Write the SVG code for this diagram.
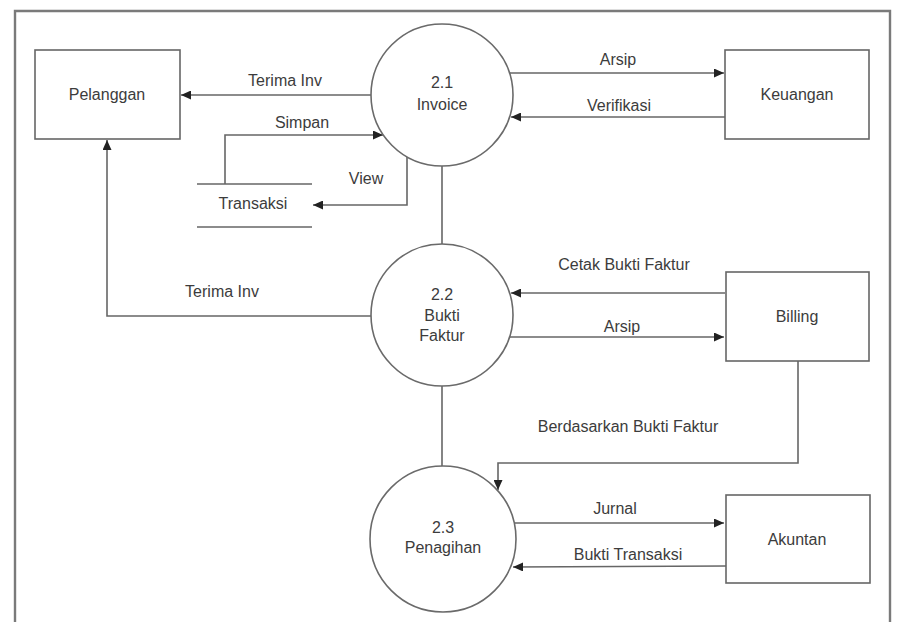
<svg xmlns="http://www.w3.org/2000/svg" width="901" height="622" viewBox="0 0 901 622">
  <style>
    .frame { fill: none; stroke: #7a7a7a; stroke-width: 2.4; }
    .entity rect { fill: #fff; stroke: #666; stroke-width: 1.6; }
    .process circle { fill: #fff; stroke: #6a6a6a; stroke-width: 1.6; }
    .store line { stroke: #666; stroke-width: 1.6; }
    .flow { fill: none; stroke: #666; stroke-width: 1.6; }
    .arrow { marker-end: url(#head); }
    text { font-family: "Liberation Sans", Arial, sans-serif; font-size: 16px; fill: #3c3c3c; text-anchor: middle; }
  </style>
  <defs>
    <marker id="head" markerUnits="userSpaceOnUse" markerWidth="11" markerHeight="9" refX="10" refY="4.5" orient="auto">
      <path d="M0,0 L10,4.5 L0,9 Z" fill="#222"/>
    </marker>
  </defs>

  <rect width="901" height="622" fill="#fff"/>
  <path class="frame" d="M15,624 V11 H890 V624"/>

  <!-- data flows -->
  <g id="connectors">
    <path class="flow arrow" d="M373,95 H181"/>
    <text x="285" y="86">Terima Inv</text>

    <path class="flow arrow" d="M225,184 V135 H383"/>
    <text x="302" y="128">Simpan</text>

    <path class="flow arrow" d="M407,157 V205 H313"/>
    <text x="366" y="184">View</text>

    <path class="flow arrow" d="M510,73 H724"/>
    <text x="618" y="65">Arsip</text>

    <path class="flow arrow" d="M725,117 H511"/>
    <text x="619" y="111">Verifikasi</text>

    <path class="flow" d="M442,166 V244"/>

    <path class="flow arrow" d="M371,316 H107 V140"/>
    <text x="222" y="297">Terima Inv</text>

    <path class="flow arrow" d="M725,293 H511"/>
    <text x="624" y="270">Cetak Bukti Faktur</text>

    <path class="flow arrow" d="M510,337 H724"/>
    <text x="622" y="332">Arsip</text>

    <path class="flow" d="M442,386 V466"/>

    <path class="flow arrow" d="M798,361 V463 H498 V490"/>
    <text x="628" y="432">Berdasarkan Bukti Faktur</text>

    <path class="flow arrow" d="M515,523 H724"/>
    <text x="615" y="514">Jurnal</text>

    <path class="flow arrow" d="M726,566 L513,567"/>
    <text x="628" y="560">Bukti Transaksi</text>
  </g>

  <!-- external entities -->
  <g id="pelanggan" class="entity">
    <rect x="35" y="50" width="145" height="89"/>
    <text x="107" y="100">Pelanggan</text>
  </g>
  <g id="keuangan" class="entity">
    <rect x="725" y="50" width="144" height="89"/>
    <text x="797" y="100">Keuangan</text>
  </g>
  <g id="billing" class="entity">
    <rect x="726" y="272" width="143" height="89"/>
    <text x="797" y="322">Billing</text>
  </g>
  <g id="akuntan" class="entity">
    <rect x="726" y="495" width="144" height="88"/>
    <text x="797" y="545">Akuntan</text>
  </g>

  <!-- data store -->
  <g id="transaksi" class="store">
    <line x1="197" y1="184" x2="312" y2="184"/>
    <line x1="197" y1="227" x2="312" y2="227"/>
    <text x="253" y="209">Transaksi</text>
  </g>

  <!-- processes -->
  <g id="p21" class="process">
    <circle cx="442" cy="95" r="71"/>
    <text x="442" y="88">2.1</text>
    <text x="442" y="110">Invoice</text>
  </g>
  <g id="p22" class="process">
    <circle cx="442" cy="315" r="71"/>
    <text x="442" y="300">2.2</text>
    <text x="442" y="321">Bukti</text>
    <text x="442" y="341">Faktur</text>
  </g>
  <g id="p23" class="process">
    <circle cx="443" cy="539" r="73"/>
    <text x="443" y="533">2.3</text>
    <text x="443" y="553">Penagihan</text>
  </g>
</svg>
